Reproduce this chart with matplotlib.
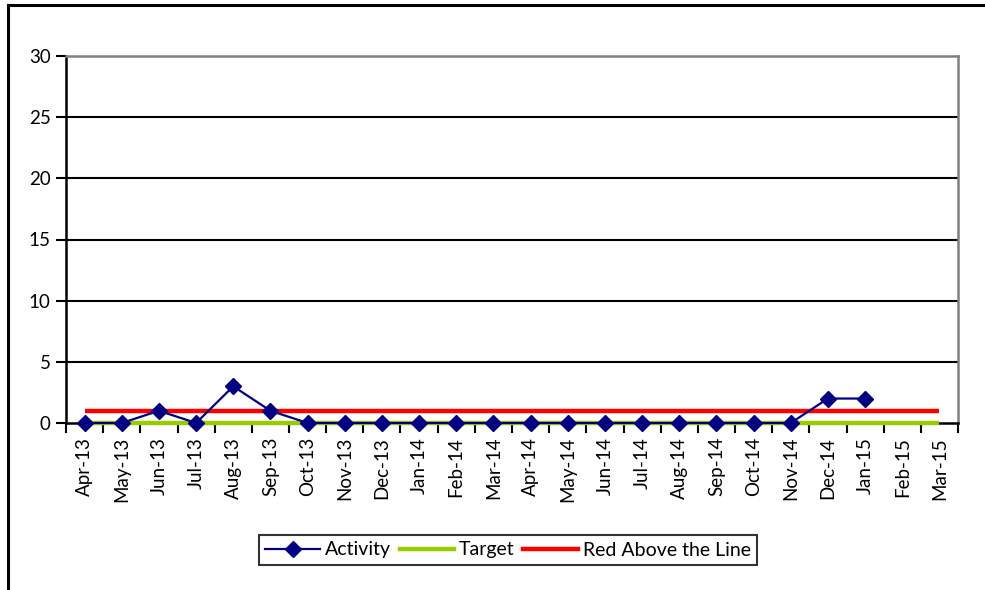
import numpy as np
import matplotlib
matplotlib.use('Agg')
import matplotlib.pyplot as plt
from matplotlib.lines import Line2D

plt.rcParams['font.family'] = ['Lato', 'DejaVu Sans']

# data
months = ['Apr-13', 'May-13', 'Jun-13', 'Jul-13', 'Aug-13', 'Sep-13', 'Oct-13', 'Nov-13',
          'Dec-13', 'Jan-14', 'Feb-14', 'Mar-14', 'Apr-14', 'May-14', 'Jun-14', 'Jul-14',
          'Aug-14', 'Sep-14', 'Oct-14', 'Nov-14', 'Dec-14', 'Jan-15', 'Feb-15', 'Mar-15']
activity = [0, 0, 1, 0, 3, 1, 0, 0, 0, 0, 0, 0, 0, 0, 0, 0, 0, 0, 0, 0, 2, 2]
target = [0] * 24
red_line = [1] * 24

fig = plt.figure(figsize=(9.85, 5.9), dpi=100)
ax = fig.add_axes([66/985, 1-423/590, (958-66)/985, (423-56)/590])

x = np.arange(len(months))
ax.plot(x, red_line, color='#FF0000', lw=3.2, solid_capstyle='butt', zorder=3)
ax.plot(x, target, color='#99CC00', lw=3.2, solid_capstyle='butt', zorder=3, clip_on=False)
ax.plot(x[:len(activity)], activity, color='#000080', lw=1.6, marker='D', ms=8.5,
        markerfacecolor='#000080', markeredgecolor='#000080', zorder=4, clip_on=False)

ax.set_xlim(-0.5, len(months) - 0.5)
ax.set_ylim(0, 30)
ax.set_yticks(range(0, 31, 5))
ax.set_xticks(x)
ax.set_xticklabels(months, rotation=90, fontsize=13.5)
ax.set_xticks(np.arange(-0.5, len(months), 1), minor=True)
ax.tick_params(axis='x', which='major', length=0, pad=10)
ax.tick_params(axis='x', which='minor', length=7, width=1.5, direction='out')
ax.tick_params(axis='y', length=7, width=1.5, labelsize=13.5, pad=4)

for yv in range(5, 30, 5):
    ax.axhline(yv, color='black', lw=1.5, zorder=1)

ax.spines['left'].set_linewidth(1.8)
ax.spines['bottom'].set_linewidth(1.8)
ax.spines['top'].set_color('#808080')
ax.spines['top'].set_linewidth(1.8)
ax.spines['right'].set_color('#808080')
ax.spines['right'].set_linewidth(1.8)

handles = [
    Line2D([], [], color='#000080', lw=1.6, marker='D', ms=8.5),
    Line2D([], [], color='#99CC00', lw=3.2),
    Line2D([], [], color='#FF0000', lw=3.2),
]
leg = fig.legend(handles, ['Activity', 'Target', 'Red Above the Line'],
                 loc='center', bbox_to_anchor=(508/985, 1-550/590), ncol=3,
                 fontsize=14, frameon=True, fancybox=False, handlelength=2.8,
                 handletextpad=0.25, columnspacing=0.45, borderpad=0.35)
leg.get_frame().set_edgecolor('black')
leg.get_frame().set_linewidth(1.5)

# outer chart frame (top and left only visible)
fig.add_artist(Line2D([8/985, 983/985], [1-5/590, 1-5/590], color='black', lw=2.2))
fig.add_artist(Line2D([8/985, 8/985], [1-5/590, 0], color='black', lw=2.2))

fig.savefig('out.png', dpi=100)
